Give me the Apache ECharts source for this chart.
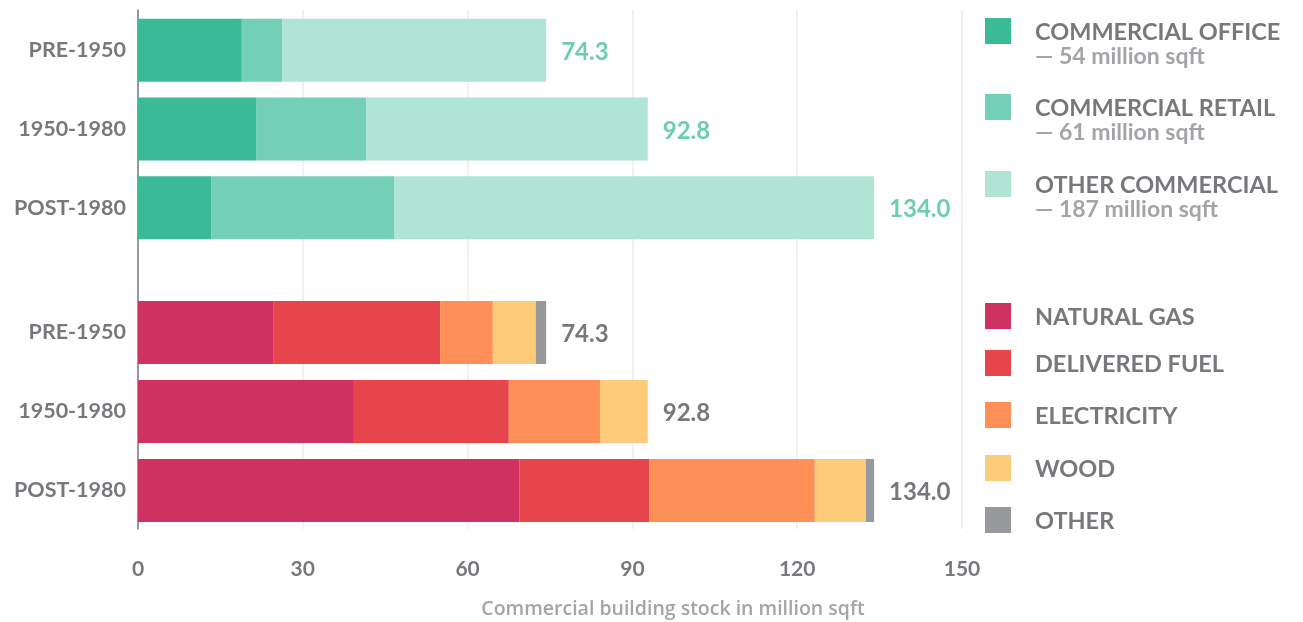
<!DOCTYPE html>
<html>
<head>
<meta charset="utf-8">
<script src="https://cdn.jsdelivr.net/npm/echarts@6/dist/echarts.min.js"></script>
<style>
  html, body { margin: 0; padding: 0; background: #ffffff; }
  #chart { width: 1303px; height: 622px; }
</style>
</head>
<body>
<div id="chart"></div>
<script>
// Building age bands (same for both panels)
var eras = ['PRE-1950', '1950-1980', 'POST-1980'];

// Upper panel: commercial floor space by building type (million sqft)
var commercialTypes = ['COMMERCIAL OFFICE', 'COMMERCIAL RETAIL', 'OTHER COMMERCIAL'];
var commercialOffice = [18.9, 21.6, 13.4];
var commercialRetail = [7.4, 19.9, 33.3];
var otherCommercial = [48.0, 51.3, 87.3];

// Lower panel: the same stock split by heating fuel (million sqft)
var fuelTypes = ['NATURAL GAS', 'DELIVERED FUEL', 'ELECTRICITY', 'WOOD', 'OTHER'];
var naturalGas = [24.6, 39.3, 69.4];
var deliveredFuel = [30.4, 28.2, 23.7];
var electricity = [9.6, 16.6, 30.1];
var wood = [7.8, 8.7, 9.3];
var otherFuel = [1.9, 0, 1.5];

// Value axis ticks
var xTicks = [0, 30, 60, 90, 120, 150];
var axisTitle = 'Commercial building stock in million sqft';

var commercialSeries = [commercialOffice, commercialRetail, otherCommercial];
var fuelSeries = [naturalGas, deliveredFuel, electricity, wood, otherFuel];
var commercialColors = ['#3aba97', '#73cfb5', '#b0e4d4'];
var fuelColors = ['#cf3261', '#e5454b', '#fe8f57', '#fecb7a', '#98999d'];

var FONT = 'Lato';
var GRAY = '#77787b';
var LIGHT_GRAY = '#a3a4a7';

function rowTotals(list) {
  return eras.map(function (_, i) {
    return list.reduce(function (s, arr) { return s + arr[i]; }, 0);
  });
}
var commercialTotals = rowTotals(commercialSeries);
var fuelTotals = rowTotals(fuelSeries);
function sum(arr) { return arr.reduce(function (s, v) { return s + v; }, 0); }

var PLOT_LEFT = 138, PLOT_WIDTH = 824;

function makeSeries(list, names, colors, axisIdx, stack, totals, labelColor) {
  return list.map(function (values, k) {
    var last = k === list.length - 1;
    return {
      name: names[k],
      type: 'bar',
      stack: stack,
      xAxisIndex: axisIdx,
      yAxisIndex: axisIdx,
      barWidth: 63,
      data: values,
      itemStyle: { color: colors[k] },
      silent: true,
      label: last ? {
        show: true,
        position: 'right',
        distance: 15,
        offset: [0, 2],
        fontFamily: FONT,
        fontWeight: 'bold',
        fontSize: 24,
        color: labelColor,
        formatter: function (p) { return totals[p.dataIndex].toFixed(1); }
      } : { show: false }
    };
  });
}

// Legend built from squares and text
var legendGraphics = [];
var commercialLegendY = [18, 94, 171];
commercialTypes.forEach(function (name, k) {
  var y = commercialLegendY[k];
  legendGraphics.push({
    type: 'rect', left: 985, top: y,
    shape: { width: 26, height: 26 },
    style: { fill: commercialColors[k] }
  });
  legendGraphics.push({
    type: 'text', x: 1035, y: y + 14,
    style: {
      text: name, fill: GRAY, font: 'bold 23.5px ' + FONT,
      textVerticalAlign: 'middle'
    }
  });
  legendGraphics.push({
    type: 'text', x: 1035, y: y + 39,
    style: {
      text: '\u2014 ' + Math.round(sum(commercialSeries[k])) + ' million sqft',
      fill: LIGHT_GRAY, font: 'bold 23px ' + FONT,
      textVerticalAlign: 'middle'
    }
  });
});
var fuelLegendY = [303, 350, 402, 455, 507];
fuelTypes.forEach(function (name, k) {
  var y = fuelLegendY[k];
  legendGraphics.push({
    type: 'rect', left: 985, top: y,
    shape: { width: 26, height: 26 },
    style: { fill: fuelColors[k] }
  });
  legendGraphics.push({
    type: 'text', x: 1035, y: y + 14,
    style: {
      text: name, fill: GRAY, font: 'bold 23.5px ' + FONT,
      textVerticalAlign: 'middle'
    }
  });
});
legendGraphics.push({
  type: 'text', x: 673, y: 609,
  style: {
    text: axisTitle, fill: LIGHT_GRAY, font: '600 19.5px "Open Sans"',
    textAlign: 'center', textVerticalAlign: 'middle'
  }
});

var chart = echarts.init(document.getElementById('chart'), null, { renderer: 'canvas' });

var yLabelStyle = { margin: 12, fontFamily: FONT, fontSize: 21.5, fontWeight: 'bold', color: GRAY };

var option = {
  animation: false,
  backgroundColor: '#ffffff',
  grid: [
    { left: PLOT_LEFT, width: PLOT_WIDTH, top: 10, height: 519 },
    { left: PLOT_LEFT, width: PLOT_WIDTH, top: 11, height: 236 },
    { left: PLOT_LEFT, width: PLOT_WIDTH, top: 293, height: 237 }
  ],
  xAxis: [
    {
      gridIndex: 0, type: 'value', min: xTicks[0], max: xTicks[xTicks.length - 1],
      interval: xTicks[1] - xTicks[0],
      axisLine: { show: false }, axisTick: { show: false },
      splitLine: { show: true, lineStyle: { color: '#ececec', width: 1.5 } },
      axisLabel: {
        margin: 30, fontFamily: FONT, fontSize: 21, fontWeight: 'bold', color: GRAY,
        formatter: function (v) { return String(v); }
      }
    },
    { gridIndex: 1, type: 'value', min: 0, max: 150, show: false },
    { gridIndex: 2, type: 'value', min: 0, max: 150, show: false }
  ],
  yAxis: [
    {
      gridIndex: 0, type: 'value', min: 0, max: 1,
      axisLine: { show: true, onZero: false, lineStyle: { color: '#7a7a7a', width: 1.5 } },
      axisTick: { show: false }, axisLabel: { show: false }, splitLine: { show: false }
    },
    {
      gridIndex: 1, type: 'category', inverse: true, data: eras,
      axisLine: { show: false }, axisTick: { show: false },
      axisLabel: yLabelStyle
    },
    {
      gridIndex: 2, type: 'category', inverse: true, data: eras,
      axisLine: { show: false }, axisTick: { show: false },
      axisLabel: yLabelStyle
    }
  ],
  series: makeSeries(commercialSeries, commercialTypes, commercialColors, 1, 'commercial', commercialTotals, '#6dcdb1')
    .concat(makeSeries(fuelSeries, fuelTypes, fuelColors, 2, 'fuel', fuelTotals, GRAY)),
  graphic: legendGraphics
};

chart.setOption(option);
</script>
</body>
</html>
